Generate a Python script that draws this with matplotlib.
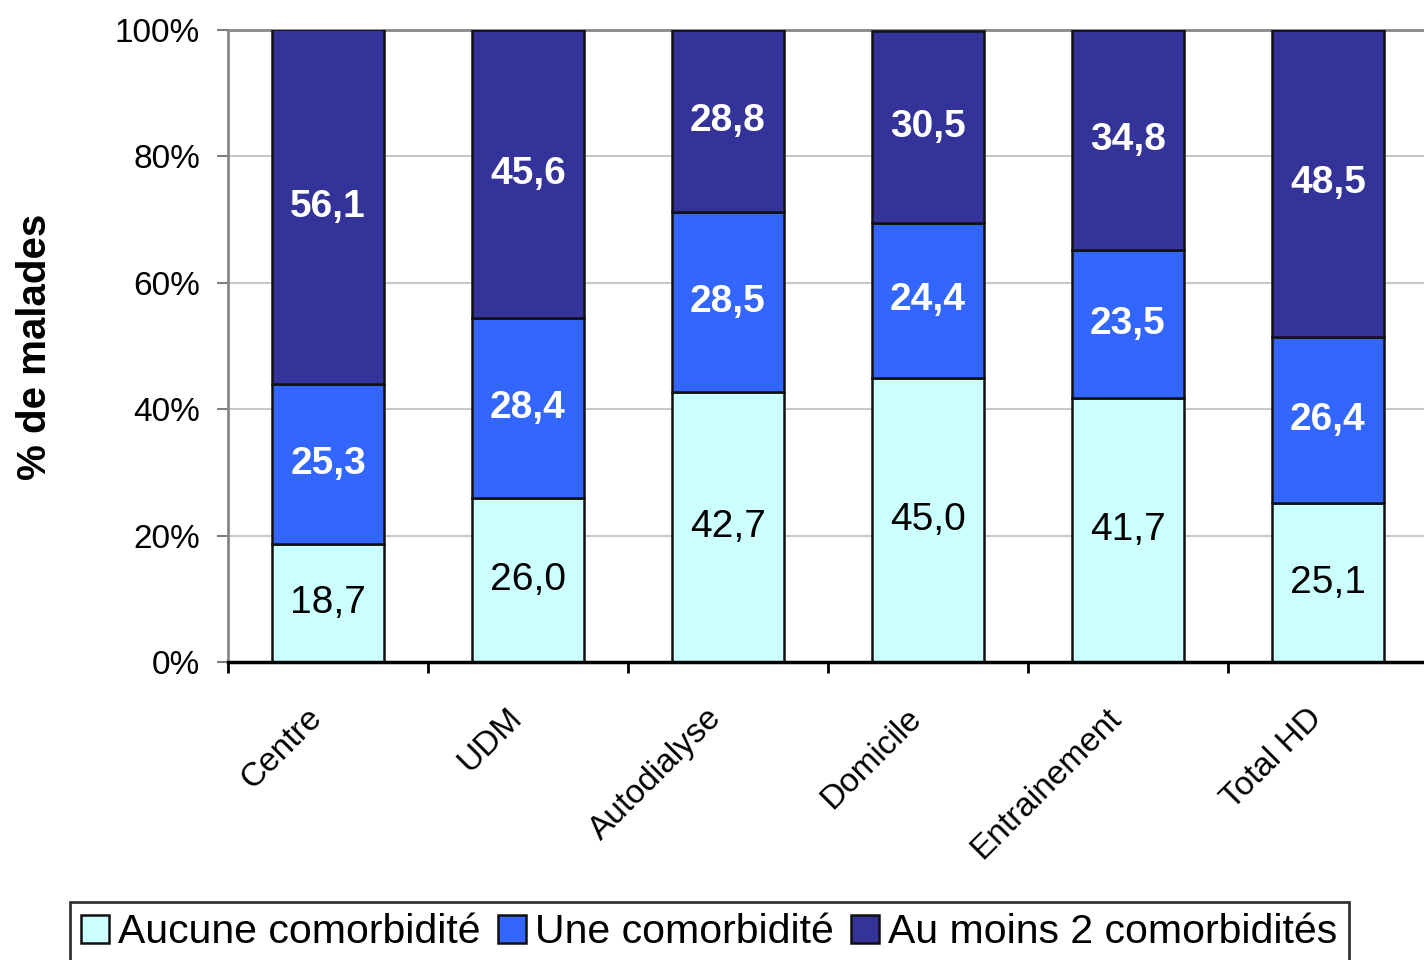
import numpy as np
import matplotlib
matplotlib.use("Agg")
from matplotlib import pyplot as plt

plt.rcParams['font.family'] = ['Liberation Sans', 'DejaVu Sans']

categories = ["Centre", "UDM", "Autodialyse", "Domicile", "Entrainement", "Total HD"]
aucune = [18.7, 26.0, 42.7, 45.0, 41.7, 25.1]
une = [25.3, 28.4, 28.5, 24.4, 23.5, 26.4]
deux_plus = [56.1, 45.6, 28.8, 30.5, 34.8, 48.5]
series_names = ["Aucune comorbidité", "Une comorbidité", "Au moins 2 comorbidités"]
yticks = [0, 20, 40, 60, 80, 100]
ytick_labels = ["0%", "20%", "40%", "60%", "80%", "100%"]

colors = ["#CCFFFF", "#3366FF", "#333399"]
text_colors = ["black", "white", "white"]
text_weights = ["normal", "bold", "bold"]

fig = plt.figure(figsize=(14.24, 9.6), dpi=100)
ax = fig.add_axes([228 / 1424, 1 - 662 / 960, 1200 / 1424, 632 / 960])

x = np.arange(len(categories))
bottom = np.zeros(len(categories))
for vals, col, tcol, tw, name in zip([aucune, une, deux_plus], colors, text_colors,
                                     text_weights, series_names):
    vals = np.array(vals)
    ax.bar(x, vals, width=0.56, bottom=bottom, color=col, edgecolor="#101010",
           linewidth=1.8, label=name, zorder=3)
    for xi, b, v in zip(x, bottom, vals):
        ax.text(xi, b + v / 2, f"{v:.1f}".replace(".", ","), ha="center", va="center",
                color=tcol, fontsize=28, fontweight=tw, zorder=4)
    bottom += vals

ax.set_xlim(-0.5, len(categories) - 0.5)
ax.set_ylim(0, 100)
ax.set_yticks(yticks)
ax.set_yticklabels(ytick_labels, fontsize=24)
ax.yaxis.grid(True, color="#C8C8C8", linewidth=1.5, zorder=0)
ax.set_axisbelow(True)

# labels at centers, tick marks at boundaries
ax.set_xticks(x)
ax.set_xticklabels(categories, rotation=45, ha="right", fontsize=24)
ax.set_xticks(np.arange(-0.5, len(categories)), minor=True)
ax.tick_params(axis="x", which="major", length=0, pad=29)
ax.tick_params(axis="x", which="minor", length=8, width=2, color="black")
ax.tick_params(axis="y", length=8, width=1.5, color="#808080", pad=12)

for s in ["left", "top", "right"]:
    ax.spines[s].set_color("#888888")
    ax.spines[s].set_linewidth(2)
ax.spines["bottom"].set_color("black")
ax.spines["bottom"].set_linewidth(2.5)
ax.spines["bottom"].set_zorder(5)

fig.text(35 / 1424, 1 - 347 / 960, "% de malades", rotation=90, ha="center", va="center",
         fontsize=29, fontweight="bold")

leg = fig.legend(loc="upper left", bbox_to_anchor=(70 / 1424, 1 - 902 / 960), ncol=3,
                 fontsize=29.5, frameon=True, fancybox=False, handlelength=0.68,
                 handleheight=0.68, handletextpad=0.22, columnspacing=0.42,
                 borderpad=0.28, borderaxespad=0)
leg.get_frame().set_edgecolor("black")
leg.get_frame().set_linewidth(2)

fig.savefig("out.png", dpi=100)
